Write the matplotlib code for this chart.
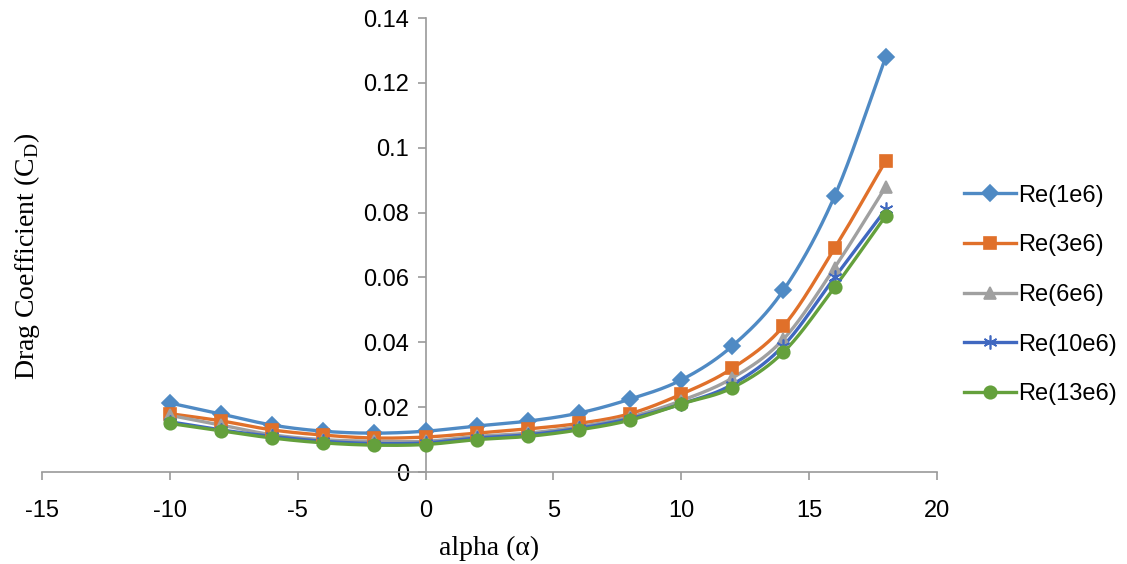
import matplotlib
matplotlib.use("Agg")
import matplotlib.pyplot as plt
import numpy as np

plt.rcParams["axes.unicode_minus"] = False

alpha = [-10, -8, -6, -4, -2, 0, 2, 4, 6, 8, 10, 12, 14, 16, 18]

cd_re1e6 = [0.0213, 0.0179, 0.0145, 0.0126, 0.0120, 0.0126, 0.0142, 0.0157,
            0.0182, 0.0225, 0.0284, 0.0389, 0.0561, 0.0851, 0.1280]
cd_re3e6 = [0.0180, 0.0158, 0.0130, 0.0114, 0.0105, 0.0108, 0.0120, 0.0133,
            0.0150, 0.0180, 0.0240, 0.0320, 0.0450, 0.0690, 0.0960]
cd_re6e6 = [0.0175, 0.0145, 0.0115, 0.0100, 0.0095, 0.0095, 0.0110, 0.0120,
            0.0140, 0.0170, 0.0220, 0.0290, 0.0410, 0.0630, 0.0880]
cd_re10e6 = [0.0155, 0.0130, 0.0110, 0.0095, 0.0088, 0.0090, 0.0105, 0.0115,
             0.0135, 0.0165, 0.0210, 0.0270, 0.0390, 0.0600, 0.0810]
cd_re13e6 = [0.0150, 0.0127, 0.0105, 0.0090, 0.0083, 0.0085, 0.0100, 0.0110,
             0.0130, 0.0160, 0.0210, 0.0260, 0.0370, 0.0570, 0.0790]

labels = ["Re(1e6)", "Re(3e6)", "Re(6e6)", "Re(10e6)", "Re(13e6)"]
colors = ["#4f8ac4", "#e0702a", "#a0a0a0", "#4068c0", "#64a03c"]
markers = ["D", "s", "^", (6, 2, 0), "o"]
msizes = [8, 9, 9, 10, 9]


def smooth(x, y, n=20):
    # Catmull-Rom through the points, like Excel's "smoothed line"
    x = np.asarray(x, float)
    y = np.asarray(y, float)
    px = np.concatenate([[2 * x[0] - x[1]], x, [2 * x[-1] - x[-2]]])
    py = np.concatenate([[2 * y[0] - y[1]], y, [2 * y[-1] - y[-2]]])
    xs, ys = [], []
    t = np.linspace(0, 1, n, endpoint=False)
    for i in range(1, len(px) - 2):
        for p, out in ((px, xs), (py, ys)):
            p0, p1, p2, p3 = p[i - 1], p[i], p[i + 1], p[i + 2]
            out.extend(0.5 * (2 * p1 + (-p0 + p2) * t
                              + (2 * p0 - 5 * p1 + 4 * p2 - p3) * t ** 2
                              + (-p0 + 3 * p1 - 3 * p2 + p3) * t ** 3))
    xs.append(x[-1])
    ys.append(y[-1])
    return xs, ys


fig = plt.figure(figsize=(11.27, 5.64), dpi=100)
ax = fig.add_axes([0.0373, 0.163, 0.794, 0.805])

series = [cd_re1e6, cd_re3e6, cd_re6e6, cd_re10e6, cd_re13e6]
for vals, lab, col, mk, ms in zip(series, labels, colors, markers, msizes):
    sx, sy = smooth(alpha, vals)
    ax.plot(sx, sy, color=col, lw=2.4, zorder=2)
    ax.plot(alpha, vals, ls="none", marker=mk, color=col, ms=ms, mew=1.2,
            zorder=3)
    ax.plot([], [], color=col, lw=2.4, marker=mk, ms=ms, mew=1.2, label=lab)

ax.set_xlim(-15, 20)
ax.set_ylim(0, 0.14)
ax.set_xticks(np.arange(-15, 21, 5))
ax.set_yticks(np.arange(0, 0.141, 0.02))
ax.set_yticklabels(["0", "0.02", "0.04", "0.06", "0.08", "0.1", "0.12", "0.14"])

for side in ("top", "right"):
    ax.spines[side].set_visible(False)
ax.spines["left"].set_position(("data", 0))
for side in ("left", "bottom"):
    ax.spines[side].set_color("#9a9a9a")
    ax.spines[side].set_linewidth(1.2)
ax.tick_params(axis="both", colors="#9a9a9a", length=6, width=1.2,
               labelcolor="black", labelsize=17)
ax.tick_params(axis="x", pad=14)
ax.tick_params(axis="y", pad=6)
for t in ax.get_xticklabels() + ax.get_yticklabels():
    t.set_family("Liberation Sans")

ax.set_xlabel("alpha (α)", family="Liberation Serif", fontsize=20, labelpad=10)
fig.text(0.024, 0.545, r"Drag Coefficient (C$_\mathregular{D}$)",
         family="Liberation Serif", fontsize=20, rotation=90,
         ha="center", va="center")

ax.legend(loc="center left", bbox_to_anchor=(1.02, 0.39), frameon=False,
          borderaxespad=0, prop={"family": "Liberation Sans", "size": 17},
          labelspacing=1.17, handlelength=2.2, handletextpad=0.1)

fig.savefig("out.png", dpi=100)
